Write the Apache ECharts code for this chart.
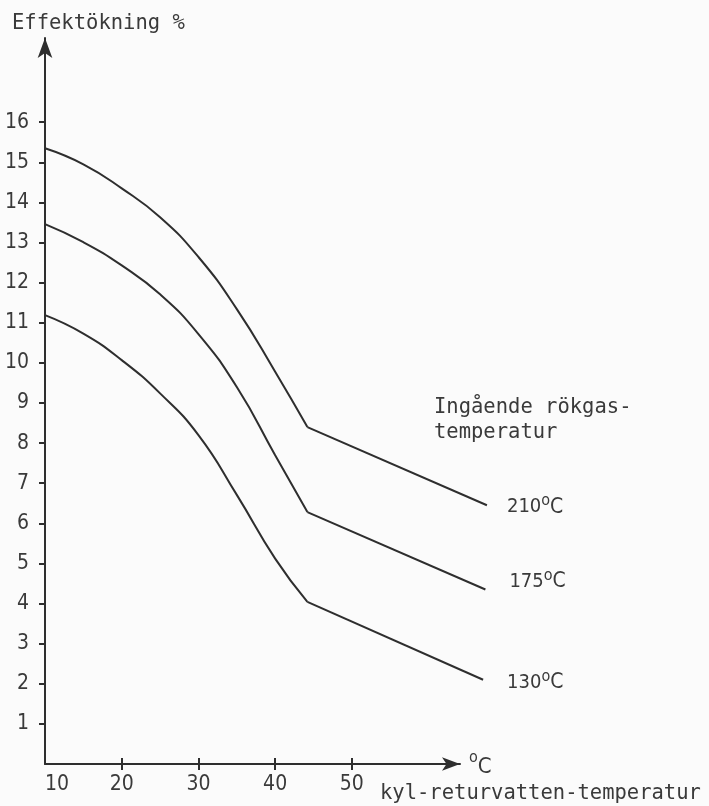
<!DOCTYPE html>
<html>
<head>
<meta charset="utf-8">
<script src="https://cdn.jsdelivr.net/npm/echarts@6.0.0/dist/echarts.min.js"></script>
<style>
  html, body { margin: 0; padding: 0; background: #fbfbfb; }
  #chart { width: 709px; height: 806px; }
</style>
</head>
<body>
<div id="chart"></div>
<script>
// kyl-returvatten-temperatur (°C) -> effektökning (%)
const curve210 = [[10, 15.35], [15, 14.95], [20, 14.35], [25, 13.63], [30, 12.64], [35, 11.34], [40, 9.78], [44.2, 8.4], [67.6, 6.45]]
const curve175 = [[10, 13.46], [15, 13.01], [20, 12.43], [25, 11.71], [30, 10.72], [35, 9.4], [40, 7.7], [44.2, 6.28], [67.4, 4.35]]
const curve130 = [[10, 11.19], [15, 10.73], [20, 10.07], [25, 9.24], [30, 8.2], [35, 6.71], [40, 5.12], [44.2, 4.04], [67.1, 2.1]]
const kinkIndex = 7 // after this point the curves are straight lines

const curveNames = ['210', '175', '130']
const yTicks = [1, 2, 3, 4, 5, 6, 7, 8, 9, 10, 11, 12, 13, 14, 15, 16]
const xTicks = [20, 30, 40, 50]
const xLabels = [10, 20, 30, 40, 50]

const ink = '#2e2e2e'
const textInk = '#3a3a3a'
const mono = '"DejaVu Sans Mono", monospace'
const narrow = '"Liberation Sans Narrow", "DejaVu Sans Condensed", "Liberation Sans", sans-serif'

const chart = echarts.init(document.getElementById('chart'))

// one curved part (smooth) and one straight part per temperature
const buildSeries = (points, name, labelOffset) => [
  {
    type: 'line',
    xAxisIndex: 2,
    yAxisIndex: 1,
    data: points.slice(0, kinkIndex + 1),
    smooth: 0.5,
    symbol: 'none',
    silent: true,
    lineStyle: { color: ink, width: 2 },
  },
  {
    type: 'line',
    xAxisIndex: 2,
    yAxisIndex: 1,
    data: points.slice(kinkIndex),
    symbol: 'none',
    silent: true,
    lineStyle: { color: ink, width: 2 },
    endLabel: {
      show: true,
      distance: 20,
      offset: labelOffset,
      formatter: () => name + '{s|o}{c|C}',
      fontFamily: narrow,
      fontSize: 20,
      color: textInk,
      lineHeight: 28,
      rich: {
        s: { fontFamily: narrow, fontSize: 16, color: textInk, verticalAlign: 'top', lineHeight: 28 },
        c: { fontFamily: narrow, fontSize: 21, color: textInk, lineHeight: 28 },
      },
    },
  },
]

const option = {
  animation: false,
  backgroundColor: '#fbfbfb',
  grid: [
    // drawn axes, the x arrow stops short of the line ends
    { left: 45, top: 38, right: 249, bottom: 42 },
    // same scale, wider, holds the curves
    { left: 45, top: 38, right: 219, bottom: 42 },
  ],
  xAxis: [
    {
      type: 'value',
      gridIndex: 0,
      min: 10,
      max: 64.1,
      axisLine: { show: true, symbol: ['none', 'arrow'], symbolSize: [10, 18], lineStyle: { color: ink, width: 2 } },
      axisTick: { show: true, customValues: xTicks, length: 6, lineStyle: { color: ink, width: 2 } },
      axisLabel: {
        customValues: xLabels,
        margin: 10,
        alignMinLabel: 'left',
        fontFamily: narrow,
        fontSize: 21,
        color: textInk,
      },
      splitLine: { show: false },
    },
    {
      // inner half of the x ticks, they cross the axis line
      type: 'value',
      gridIndex: 0,
      position: 'bottom',
      min: 10,
      max: 64.1,
      axisLine: { show: false },
      axisTick: { show: true, inside: true, customValues: xTicks, length: 6, lineStyle: { color: ink, width: 2 } },
      axisLabel: { show: false },
      splitLine: { show: false },
    },
    { type: 'value', gridIndex: 1, min: 10, max: 68, show: false },
  ],
  yAxis: [
    {
      type: 'value',
      gridIndex: 0,
      min: 0,
      max: 18.1,
      axisLine: { show: true, symbol: ['none', 'arrow'], symbolSize: [11, 20], lineStyle: { color: ink, width: 2 } },
      axisTick: { show: true, customValues: yTicks, length: 6, lineStyle: { color: ink, width: 2 } },
      axisLabel: { customValues: yTicks, margin: 16, fontFamily: narrow, fontSize: 21, color: textInk },
      splitLine: { show: false },
    },
    { type: 'value', gridIndex: 1, min: 0, max: 18.1, show: false },
  ],
  graphic: [
    { type: 'text', left: 12, top: 13, style: { text: 'Effektökning %', font: '20.5px ' + mono, fill: textInk } },
    { type: 'text', left: 434, top: 395, style: { text: 'Ingående rökgas-\ntemperatur', font: '20.5px ' + mono, fill: textInk, lineHeight: 25 } },
    {
      type: 'text', left: 469, top: 750,
      style: {
        text: '{s|o}{c|C}',
        rich: {
          s: { fontFamily: narrow, fontSize: 16, fill: textInk, verticalAlign: 'top', lineHeight: 28 },
          c: { fontFamily: narrow, fontSize: 22, fill: textInk, verticalAlign: 'bottom', lineHeight: 28 },
        },
      },
    },
    { type: 'text', left: 380, top: 783, style: { text: 'kyl-returvatten-temperatur', font: '20.5px ' + mono, fill: textInk } },
  ],
  series: [
    ...buildSeries(curve210, curveNames[0], [0, 2]),
    ...buildSeries(curve175, curveNames[1], [4, -8]),
    ...buildSeries(curve130, curveNames[2], [4, 3]),
  ],
}

chart.setOption(option)
</script>
</body>
</html>
